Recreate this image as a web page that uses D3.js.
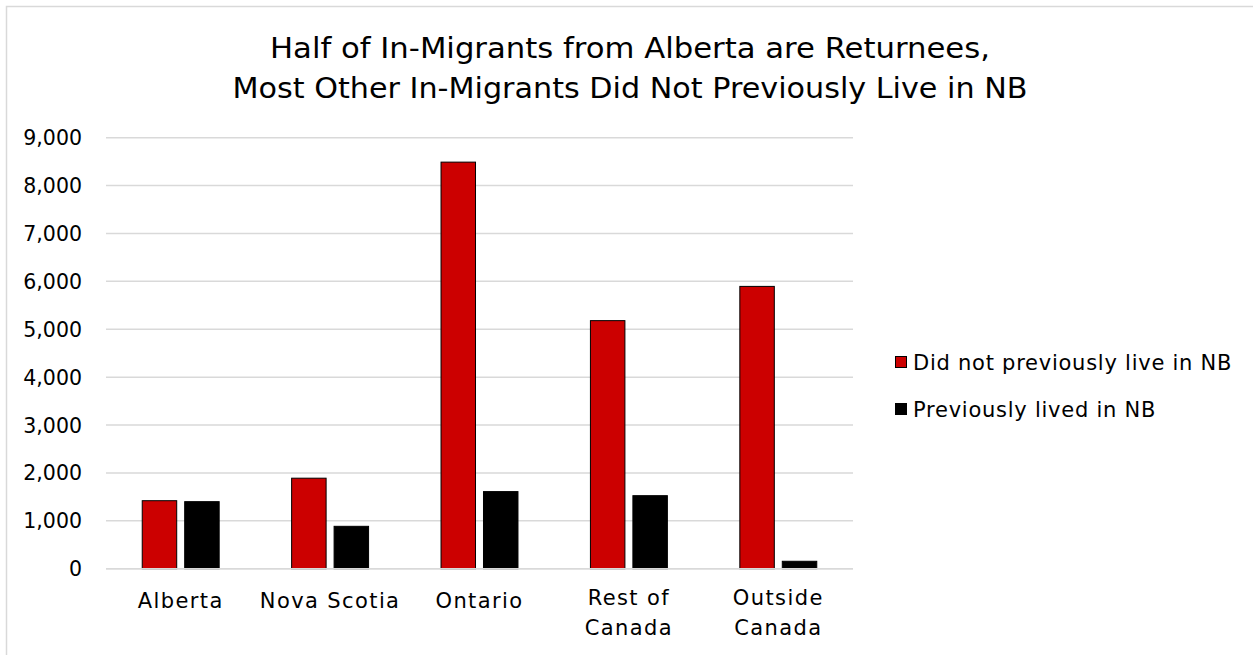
<!DOCTYPE html>
<html>
<head>
<meta charset="utf-8">
<script src="https://cdn.jsdelivr.net/npm/d3@7"></script>
<style>
  html, body { margin: 0; padding: 0; background: #fff; }
  svg { display: block; }
  text { font-family: "DejaVu Sans", "Noto Sans", sans-serif; fill: #000; }
</style>
</head>
<body>
<svg id="chart" width="1253" height="655"></svg>
<script>
const categories = ["Alberta", "Nova Scotia", "Ontario", "Rest of Canada", "Outside Canada"];
const categoryLines = [["Alberta"], ["Nova Scotia"], ["Ontario"], ["Rest of", "Canada"], ["Outside", "Canada"]];
const seriesNames = ["Did not previously live in NB", "Previously lived in NB"];
const didNotPreviouslyLive = [1420, 1890, 8490, 5180, 5895];
const previouslyLived = [1400, 885, 1610, 1525, 155];
const yTicks = [0, 1000, 2000, 3000, 4000, 5000, 6000, 7000, 8000, 9000];
const titleLines = ["Half of In-Migrants from Alberta are Returnees,", "Most Other In-Migrants Did Not Previously Live in NB"];
const colors = ["#CC0000", "#000000"];

const svg = d3.select("#chart");

// chart border
svg.append("rect").attr("x", 6.5).attr("y", 6.5).attr("width", 1260).attr("height", 660)
  .attr("fill", "none").attr("stroke", "#d9d9d9").attr("stroke-width", 1.5);

const plotLeft = 106, plotRight = 853, plotTop = 137.7, plotBottom = 568.7;

const x0 = d3.scaleBand().domain(categories).range([plotLeft, plotRight])
  .paddingInner(0.485).paddingOuter(0.2425);
const x1 = d3.scaleBand().domain(seriesNames).range([0, x0.bandwidth()]).paddingInner(0.188);
const y = d3.scaleLinear().domain([0, 9000]).range([plotBottom, plotTop]);

// gridlines
svg.append("g").selectAll("line").data(yTicks).join("line")
  .attr("x1", plotLeft).attr("x2", plotRight)
  .attr("y1", d => y(d)).attr("y2", d => y(d))
  .attr("stroke", "#d9d9d9").attr("stroke-width", 1.5);

// y axis labels
const yAxis = d3.axisLeft(y).tickValues(yTicks).tickFormat(d3.format(",")).tickSize(0).tickPadding(0);
const yg = svg.append("g").attr("transform", `translate(82,0)`).call(yAxis);
yg.select(".domain").remove();
yg.selectAll("text").attr("font-size", 20.5).attr("font-family", "DejaVu Sans, sans-serif")
  .attr("fill", "#000").attr("dy", "0.34em");

// bars
const rows = categories.map((c, i) => ({ cat: c, vals: [didNotPreviouslyLive[i], previouslyLived[i]] }));
const groups = svg.append("g").selectAll("g").data(rows).join("g")
  .attr("transform", d => `translate(${x0(d.cat)},0)`);
groups.selectAll("rect").data(d => d.vals.map((v, j) => ({ s: seriesNames[j], v, j }))).join("rect")
  .attr("x", d => x1(d.s))
  .attr("y", d => y(d.v))
  .attr("width", x1.bandwidth())
  .attr("height", d => plotBottom - y(d.v))
  .attr("fill", d => colors[d.j])
  .attr("stroke", "#000").attr("stroke-width", 1);

// x axis line
svg.append("line").attr("x1", plotLeft).attr("x2", plotRight).attr("y1", plotBottom).attr("y2", plotBottom)
  .attr("stroke", "#d9d9d9").attr("stroke-width", 1.5);

// category labels
const xl = svg.append("g").selectAll("text").data(categories).join("text")
  .attr("text-anchor", "middle")
  .attr("font-size", 21)
  .attr("letter-spacing", 1.4)
  .attr("x", d => x0(d) + x0.bandwidth() / 2)
  .attr("y", (d, i) => categoryLines[i].length > 1 ? 605 : 608);
xl.selectAll("tspan").data((d, i) => categoryLines[i]).join("tspan")
  .attr("x", function () { return d3.select(this.parentNode).attr("x"); })
  .attr("dy", (d, k) => k === 0 ? 0 : 30)
  .text(d => d);

// title
svg.append("g").selectAll("text").data(titleLines).join("text")
  .attr("text-anchor", "middle")
  .attr("x", 630)
  .attr("y", (d, i) => 58 + i * 40)
  .attr("font-size", 28.5)
  .attr("textLength", (d, i) => i === 0 ? 720 : 795)
  .attr("lengthAdjust", "spacingAndGlyphs")
  .text(d => d);

// legend
const lg = svg.append("g").selectAll("g").data(seriesNames).join("g")
  .attr("transform", (d, i) => `translate(895,${356 + i * 47})`);
lg.append("rect").attr("x", 0.5).attr("y", 0.5).attr("width", 11).attr("height", 11)
  .attr("fill", (d, i) => colors[i]).attr("stroke", "#000").attr("stroke-width", 1);
lg.append("text").attr("x", 18).attr("y", 14).attr("font-size", 21).attr("letter-spacing", 0.75).text(d => d);
</script>
</body>
</html>
